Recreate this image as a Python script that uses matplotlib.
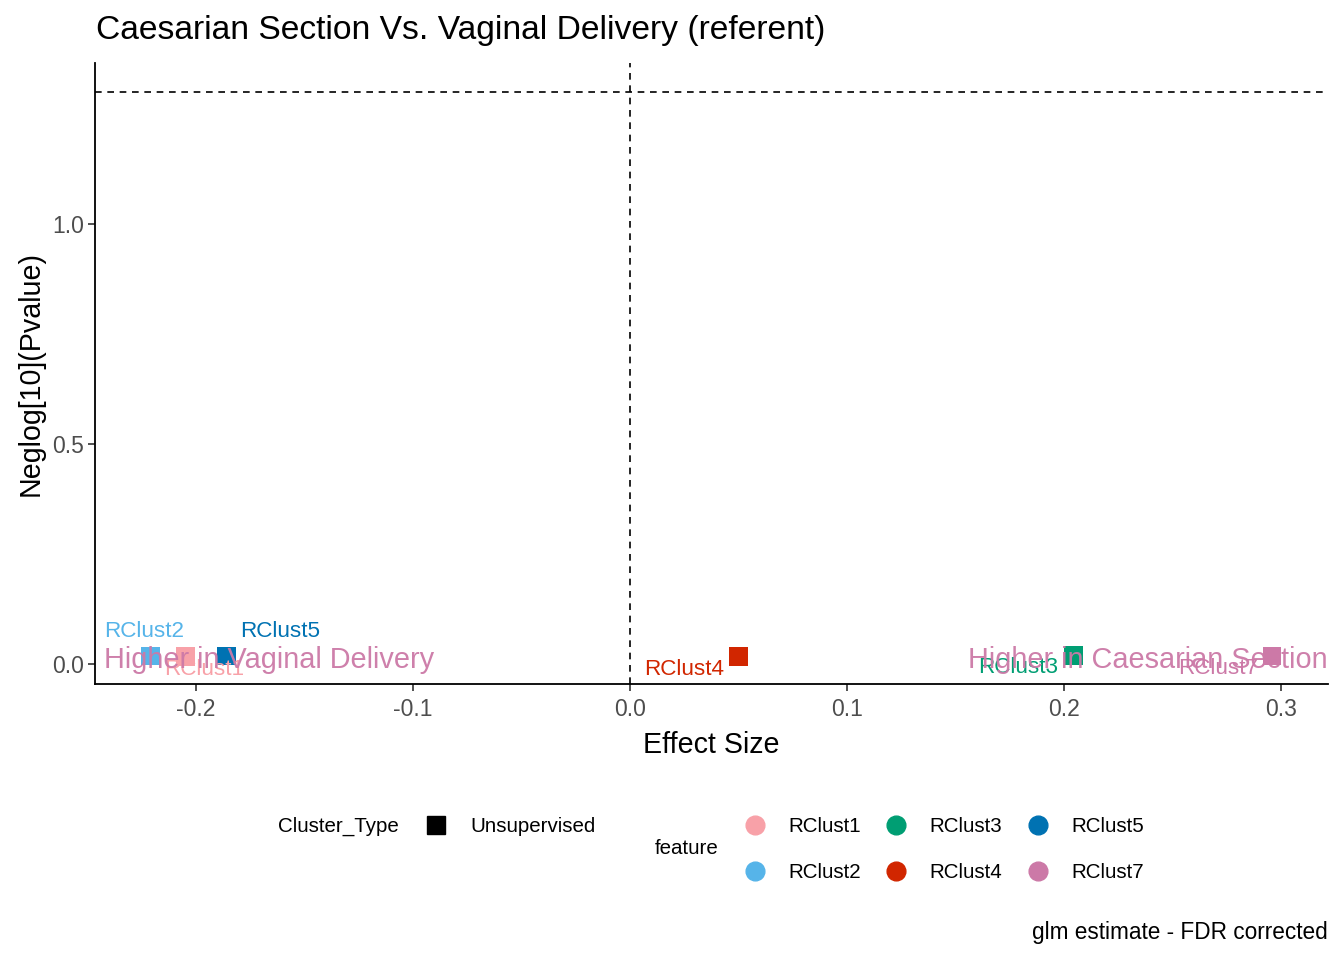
import matplotlib
matplotlib.use("Agg")
import matplotlib.pyplot as plt
from matplotlib.lines import Line2D

plt.rcParams['font.family'] = ['Liberation Sans', 'DejaVu Sans']
plt.rcParams['axes.unicode_minus'] = False

# ---- data ----
features = ["RClust1", "RClust2", "RClust3", "RClust4", "RClust5", "RClust7"]
effect = [-0.2048, -0.2210, 0.2044, 0.0501, -0.1860, 0.2959]
neglogp = [0.017, 0.018, 0.0186, 0.0175, 0.018, 0.018]
colors = ["#F8A1A8", "#56B4E9", "#009E73", "#D12600", "#0072B2", "#CC79A7"]
# label offsets (pixels) as placed by repel
label_dx = [19, -6, -55, -55, 54, -54]
label_dy = [-13, 25, -12, -13, 25, -12]
cluster_type = "Unsupervised"
sig_line = 1.30103
xticks = [-0.2, -0.1, 0.0, 0.1, 0.2, 0.3]
yticks = [0.0, 0.5, 1.0]

W, H = 1344, 960
fig = plt.figure(figsize=(W / 100, H / 100), dpi=100)
ax = fig.add_axes([95 / W, 1 - 684 / H, (1328 - 95) / W, (684 - 63) / H])

ax.set_xlim(-0.2465, 0.3217)
ax.set_ylim(-0.0455, 1.366)

ax.axvline(0, color="black", lw=1.2, ls=(0, (4.0, 3.4)), zorder=1)
ax.axhline(sig_line, color="black", lw=1.2, ls=(0, (4.0, 3.4)), zorder=1)

ax.scatter(effect, neglogp, marker="s", s=182, c=colors, linewidths=0, zorder=3)

for f, x, y, c, dx, dy in zip(features, effect, neglogp, colors, label_dx, label_dy):
    ax.annotate(f, (x, y), xytext=(dx * 0.72, dy * 0.72), textcoords="offset points",
                ha="center", va="center", color=c, fontsize=16.2, zorder=4)

ax.annotate("Higher in Vaginal Delivery", (0.0073, 0.0), xycoords=("axes fraction", "data"),
            xytext=(0, -3.2), textcoords="offset points",
            ha="left", va="baseline", color="#CC79A7", fontsize=20.8, zorder=5, alpha=0.95)
ax.annotate("Higher in Caesarian Section", (1.0, 0.0), xycoords=("axes fraction", "data"),
            xytext=(0, -3.2), textcoords="offset points",
            ha="right", va="baseline", color="#CC79A7", fontsize=20.8, zorder=5, alpha=0.95)

for s in ["top", "right"]:
    ax.spines[s].set_visible(False)
for s in ["left", "bottom"]:
    ax.spines[s].set_linewidth(1.3)
    ax.spines[s].set_color("black")

ax.set_xticks(xticks)
ax.set_xticklabels([f"{v:.1f}" for v in xticks])
ax.set_yticks(yticks)
ax.set_yticklabels([f"{v:.1f}" for v in yticks])
ax.tick_params(axis="both", direction="out", length=5, width=1.2, color="#333333",
               labelcolor="#4D4D4D", labelsize=16.5)
ax.tick_params(axis="x", pad=5)
ax.tick_params(axis="y", pad=3)

ax.set_xlabel("Effect Size", fontsize=20.6, labelpad=7)
ax.set_ylabel("Neglog[10](Pvalue)", fontsize=20.6, labelpad=5)

fig.text(96 / W, 1 - 31 / H, "Caesarian Section Vs. Vaginal Delivery (referent)",
         fontsize=24.2, ha="left", va="center")

# ---- legends ----
leg_fs = 14.8
fig.text(278 / W, 1 - 826 / H, "Cluster_Type", fontsize=leg_fs, ha="left", va="center")
fig.add_artist(Line2D([436 / W], [1 - 825 / H], marker="s", markersize=13, color="black",
                      lw=0, transform=fig.transFigure))
fig.text(470 / W, 1 - 826 / H, cluster_type, fontsize=leg_fs, ha="left", va="center")

fig.text(655 / W, 1 - 849 / H, "feature", fontsize=leg_fs, ha="left", va="center")
col_x = [755, 896, 1038]
row_y = [825, 871]
for i, (f, c) in enumerate(zip(features, colors)):
    cx = col_x[i // 2]
    cy = row_y[i % 2]
    fig.add_artist(Line2D([cx / W], [1 - cy / H], marker="o", markersize=13.5, color=c,
                          lw=0, transform=fig.transFigure))
    fig.text((cx + 33) / W, 1 - (cy + 1) / H, f, fontsize=leg_fs, ha="left", va="center")

fig.text(1328 / W, 1 - 933 / H, "glm estimate - FDR corrected", fontsize=16.3,
         ha="right", va="center")

fig.savefig("out.png", dpi=100)
